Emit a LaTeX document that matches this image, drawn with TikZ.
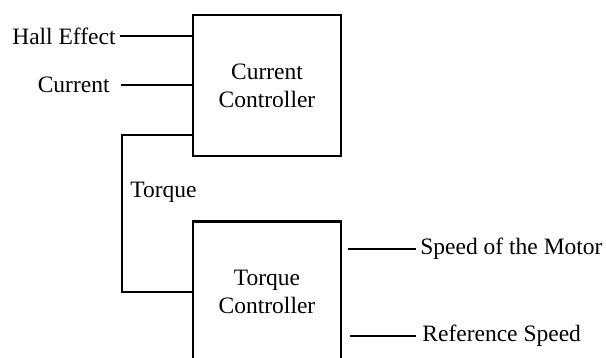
\documentclass[tikz,border=0pt]{standalone}
\usepackage{fontspec}
\setmainfont{Liberation Serif}
\usetikzlibrary{positioning}

\begin{document}
\begin{tikzpicture}[x=0.5pt,y=-0.5pt,
  block/.style={draw,line width=1.4pt,minimum width=74pt,minimum height=70.5pt,align=center,font=\fontsize{11.75}{14}\selectfont},
  lbl/.style={inner sep=2pt,font=\fontsize{11.75}{14}\selectfont},
  wire/.style={line width=1.4pt}]
\clip (0,0) rectangle (606,358);
\node[block] (cc) at (267,85.5) {Current\\Controller};
\node[block] (tc) at (267,292) {Torque\\Controller};
\node[lbl,anchor=east] (hall) at (120,36) {Hall Effect};
\node[lbl,anchor=east,inner xsep=5.5pt] (cur) at (121,85) {Current};
\node[lbl,anchor=west] (trq) at (126,192) {Torque};
\node[lbl,anchor=west] (spd) at (416,249) {Speed of the Motor};
\node[lbl,anchor=west,inner xsep=3pt] (ref) at (416,336) {Reference Speed};
\coordinate (tq) at (193,135);
\draw[wire] (hall.east) -- (hall.east -| cc.west);
\draw[wire] (cur.east) -- (cur.east -| cc.west);
\draw[wire] (tq) -| (122,292) -- (122,292 -| tc.west);
\draw[wire,shorten >=3pt] (spd.west) -- (spd.west -| tc.east);
\draw[wire,shorten >=4pt] (ref.west) -- (ref.west -| tc.east);
\end{tikzpicture}
\end{document}
